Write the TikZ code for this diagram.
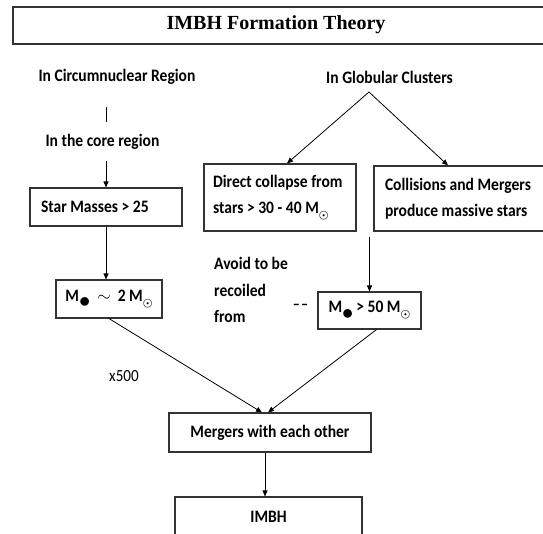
\documentclass[tikz,border=0pt]{standalone}
\usepackage{fontspec}
\setmainfont{Carlito}
\newfontfamily\bodyfont[FakeStretch=0.89]{Carlito}
\newfontfamily\titlefont{Liberation Serif}
\usetikzlibrary{arrows.meta, calc}

\newcommand{\bhsub}{\raisebox{-6.5pt}{\scalebox{1.3}{$\bullet$}}}
\newcommand{\sunsub}{\raisebox{-5pt}{\fontsize{11}{11}\selectfont\boldmath$\odot$}}
\newcommand{\natspace}{\spaceskip 0pt\xspaceskip 0pt\relax}

\begin{document}
\begin{tikzpicture}[x=1pt, y=-1pt,
    lbl/.style={font=\bodyfont\bfseries\fontsize{17.5}{26}\selectfont, inner sep=0pt, align=left},
    box/.style={draw=black!80, line width=1.1pt, font=\bodyfont\bfseries\fontsize{17.5}{26}\selectfont, inner sep=0pt, align=center},
    arr/.style={-{Triangle[length=6pt,width=5pt]}, line width=0.8pt},
    line/.style={line width=0.8pt}]
      \clip (0,0) rectangle (543,533);

      % title
      \draw[draw=black!80, line width=1.1pt] (13,7) rectangle (560,44);
      \node[font=\titlefont\bfseries\fontsize{20}{24}\selectfont] (title) at (276,25) {IMBH Formation Theory};

      % left branch
      \node[lbl] (circ) at (117,77) {In Circumnuclear Region};
      \node[lbl] (core) at (102.5,142) {In the core region};
      \node[box, minimum width=152pt, minimum height=38pt, text width=130pt, align=left] (star) at (106,207) {\natspace Star Masses > 25};
      \node[box, minimum width=106pt, minimum height=38pt] (m2) at (109,299) {M\bhsub\ \ $\sim$\ \ 2 M\sunsub};
      \node[font=\bodyfont\fontsize{17}{18}\selectfont, inner sep=0pt] (x500) at (124,376) {x500};

      % right branch
      \node[lbl] (glob) at (389.5,77) {In Globular Clusters};
      \coordinate (apex) at (369,92);
      \node[box, minimum width=152pt, minimum height=67pt, text width=134pt, align=left] (direct) at (280,197.5) {\natspace Direct collapse from\\stars > 30 - 40 M\sunsub};
      \node[box, minimum width=176pt, minimum height=65pt, text width=154pt, align=left] (coll) at (462,198.5) {\natspace Collisions and Mergers\\produce massive stars};
      \node[lbl, font=\bodyfont\bfseries\fontsize{17.5}{26.5}\selectfont, anchor=west] (avoid) at (214,290) {Avoid to be\\recoiled\\from};
      \node[font=\bodyfont\bfseries\fontsize{16}{18}\selectfont, inner sep=0pt] (dash) at (300.5,307) {\textendash\hspace{1pt}\textendash};
      \node[box, minimum width=103pt, minimum height=37pt] (m50) at (369.5,310.5) {M\bhsub\,> 50 M\sunsub};

      % bottom
      \node[box, minimum width=202pt, minimum height=39pt] (mergers) at (270,432.5) {Mergers with each other};
      \node[box, minimum width=187pt, minimum height=40pt] (imbh) at (268.5,517) {IMBH};

      \draw[line, shorten <=22pt, shorten >=12pt] (circ.south -| star.north) -- (core.north -| star.north);
      \draw[arr, shorten <=11pt] (core.south -| star.north) -- (star.north);
      \draw[arr] (star.south) -- (star.south |- m2.north);
      \draw[arr] (apex) -- ([xshift=7pt]direct.north);
      \draw[arr] (apex) -- ([xshift=-14pt]coll.north);
      \draw[arr, shorten <=5pt] (coll.south -| m50.north) -- (m50.north);
      \draw[arr] (m2.south) -- ([xshift=-8pt]mergers.north);
      \draw[arr] ([xshift=7pt]m50.south) -- ([xshift=-2pt]mergers.north);
      \draw[arr] ([xshift=-5pt]mergers.south) -- ([xshift=-5pt]mergers.south |- imbh.north);
\end{tikzpicture}
\end{document}
